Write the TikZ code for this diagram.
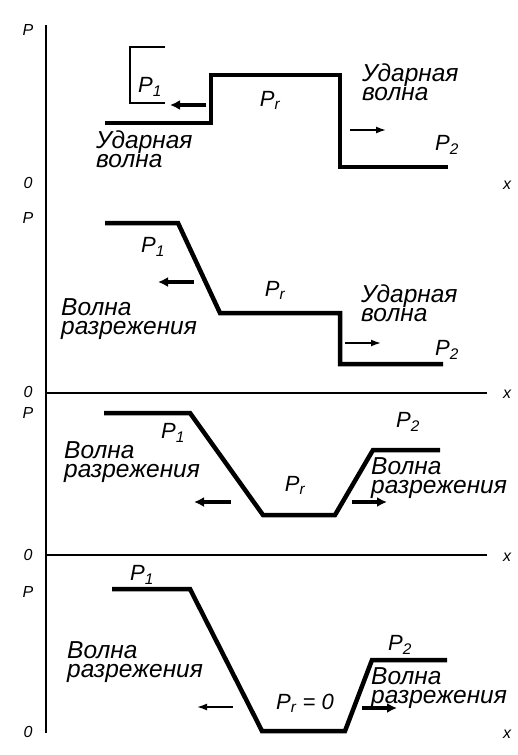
\documentclass[tikz,border=0pt]{standalone}
\usepackage{fontspec}
\setmainfont{Liberation Sans}
\usetikzlibrary{arrows.meta}
\newcommand{\Pidx}[1]{P\textsubscript{#1}}

\begin{document}
\begin{tikzpicture}[
  x=1pt, y=-1pt,
  profile/.style  = {line width=4.5pt, line join=miter},
  axisline/.style = {line width=1.8pt},
  framebox/.style = {line width=1.4pt},
  arrthin/.style  = {-{Latex[length=10pt,width=7pt]}, line width=1.6pt},
  arrthick/.style = {-{Latex[length=10pt,width=10pt]}, line width=4pt},
  plabel/.style   = {font=\fontsize{22}{22}\selectfont\itshape, inner sep=0pt},
  axlabel/.style  = {font=\fontsize{16}{16}\selectfont\itshape, inner sep=0pt},
  wavetxt/.style  = {font=\fontsize{24.5}{19}\selectfont\itshape, inner sep=0pt,
                     align=left, anchor=north west},
]
\useasboundingbox (0,0) rectangle (517,755);

%% --- Axes ---
\draw[axisline] (46,25) -- (46,733);
\draw[axisline] (46,393) -- (487,393);
\draw[axisline] (46,555) -- (487,555);
\foreach \y/\n in {30/1,218/2,413/3,592/4} {
  \node[axlabel] (p\n) at (28,\y) {P};
}
\foreach \y/\n in {183/1,392/2,555/3,732/4} {
  \node[axlabel] (o\n) at (28,\y) {0};
  \node[axlabel] (x\n) at (507,\y+2) {x};
}

%% --- Panel 1: two shock waves ---
\draw[profile] (105,123) -- (211,123) -- (211,75) -- (340,75) -- (340,167) -- (448,167);
\draw[framebox] (165,47) -- (130,47) -- (130,103) -- (165,103);
\node[plabel] (p1a) at (150,87)  {\Pidx{1}};
\node[plabel] (pra) at (270,100) {\Pidx{r}};
\node[plabel] (p2a) at (447,145) {\Pidx{2}};
\node[wavetxt] (wla) at (96,131) {Ударная\\волна};
\node[wavetxt] (wra) at (362,64)  {Ударная\\волна};
\coordinate (la0) at (206,105); \coordinate (la1) at (170,105);
\coordinate (ra0) at (350,130); \coordinate (ra1) at (386,130);
\draw[arrthick] (la0) -- (la1);
\draw[arrthin]  (ra0) -- (ra1);

%% --- Panel 2: rarefaction + shock ---
\draw[profile] (105,223) -- (178,223) -- (220,313) -- (340,313) -- (340,364) -- (443,364);
\node[plabel] (p1b) at (153,247) {\Pidx{1}};
\node[plabel] (prb) at (275,290) {\Pidx{r}};
\node[plabel] (p2b) at (447,350) {\Pidx{2}};
\node[wavetxt] (wlb) at (61,298) {Волна\\разрежения};
\node[wavetxt] (wrb) at (361,285) {Ударная\\волна};
\coordinate (lb0) at (194,282); \coordinate (lb1) at (158,282);
\coordinate (rb0) at (345,343); \coordinate (rb1) at (381,343);
\draw[arrthick] (lb0) -- (lb1);
\draw[arrthin]  (rb0) -- (rb1);

%% --- Panel 3: two rarefaction waves ---
\draw[profile] (104,413) -- (190,413) -- (263,515) -- (335,515) -- (373,450) -- (440,450);
\node[plabel] (p1c) at (173,433) {\Pidx{1}};
\node[plabel] (p2c) at (408,422) {\Pidx{2}};
\node[plabel] (prc) at (295,485) {\Pidx{r}};
\node[wavetxt] (wlc) at (64,441) {Волна\\разрежения};
\node[wavetxt] (wrc) at (371,457) {Волна\\разрежения};
\coordinate (lc0) at (231,502); \coordinate (lc1) at (194,502);
\coordinate (rc0) at (352,502); \coordinate (rc1) at (387,502);
\draw[arrthick] (lc0) -- (lc1);
\draw[arrthick] (rc0) -- (rc1);

%% --- Panel 4: cavitation, P_r = 0 ---
\draw[profile] (112,589) -- (190,589) -- (262,731) -- (345,731) -- (372,660) -- (447,660);
\node[plabel] (p1d) at (142,575) {\Pidx{1}};
\node[plabel] (p2d) at (400,645) {\Pidx{2}};
\node[plabel] (prd) at (305,703) {\Pidx{r} = 0};
\node[wavetxt] (wld) at (67,641) {Волна\\разрежения};
\node[wavetxt] (wrd) at (371,667) {Волна\\разрежения};
\coordinate (ld0) at (233,707); \coordinate (ld1) at (197,707);
\coordinate (rd0) at (362,708); \coordinate (rd1) at (397,708);
\draw[arrthin]  (ld0) -- (ld1);
\draw[arrthick] (rd0) -- (rd1);

\end{tikzpicture}
\end{document}
